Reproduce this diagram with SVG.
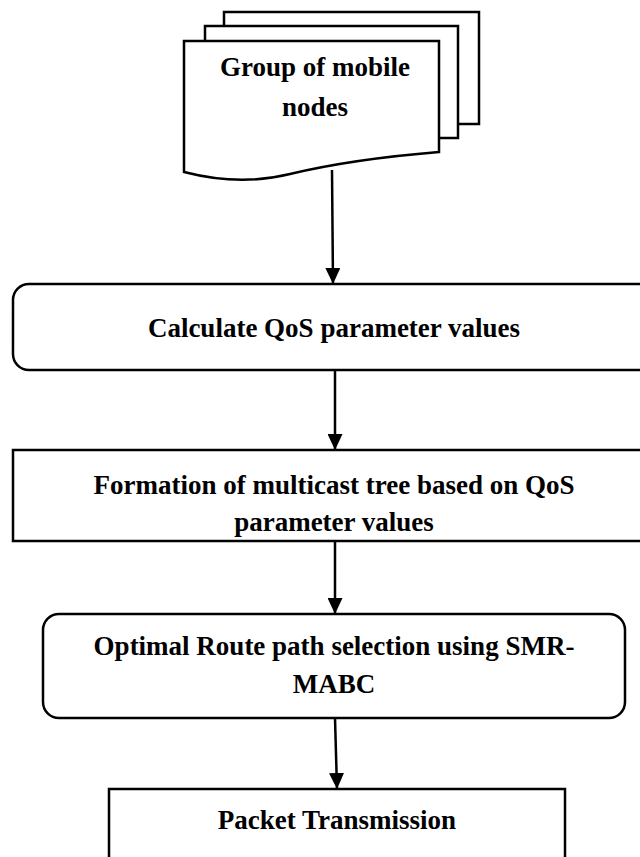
<svg xmlns="http://www.w3.org/2000/svg" width="640" height="857" viewBox="0 0 640 857">
<defs>
<marker id="ah" markerWidth="16" markerHeight="15" refX="16" refY="7.5" viewBox="0 0 16 15" markerUnits="userSpaceOnUse" orient="auto">
<path d="M0,0 L16,7.5 L0,15 Z" fill="#000"/>
</marker>
</defs>
<style>
.box{fill:#fff;stroke:#000;stroke-width:2.5}
.t{font-family:"Liberation Serif","Times New Roman",serif;font-weight:bold;font-size:27px;fill:#000;text-anchor:middle}
.c{stroke:#000;stroke-width:2.5;fill:none}
</style>
<rect width="640" height="857" fill="#fff"/>
<g id="n1">
<rect class="box" x="224" y="12" width="255" height="112"/>
<rect class="box" x="205" y="26" width="253" height="112"/>
<path class="box" d="M184,41 H439 V152 C 390,156 340,162 290,174 C 250,184 215,180 184,172 Z"/>
<text class="t" x="315" y="76">Group of mobile</text>
<text class="t" x="315" y="116">nodes</text>
</g>
<g id="n2">
<rect class="box" x="13" y="284" width="660" height="86" rx="16"/>
<text class="t" x="334" y="337">Calculate QoS parameter values</text>
</g>
<g id="n3">
<rect class="box" x="13" y="450" width="660" height="91"/>
<text class="t" x="334" y="494">Formation of multicast tree based on QoS</text>
<text class="t" x="334" y="531">parameter values</text>
</g>
<g id="n4">
<rect class="box" x="43" y="614" width="582" height="104" rx="16"/>
<text class="t" x="334" y="655">Optimal Route path selection using SMR-</text>
<text class="t" x="334" y="693">MABC</text>
</g>
<g id="n5">
<rect class="box" x="109" y="789" width="456" height="100"/>
<text class="t" x="337" y="829">Packet Transmission</text>
</g>
<g id="connectors">
<line class="c" x1="332" y1="170" x2="333" y2="284" marker-end="url(#ah)"/>
<line class="c" x1="335" y1="370" x2="335" y2="450" marker-end="url(#ah)"/>
<line class="c" x1="335" y1="541" x2="335" y2="614" marker-end="url(#ah)"/>
<line class="c" x1="335" y1="718" x2="337" y2="789" marker-end="url(#ah)"/>
</g>
</svg>
